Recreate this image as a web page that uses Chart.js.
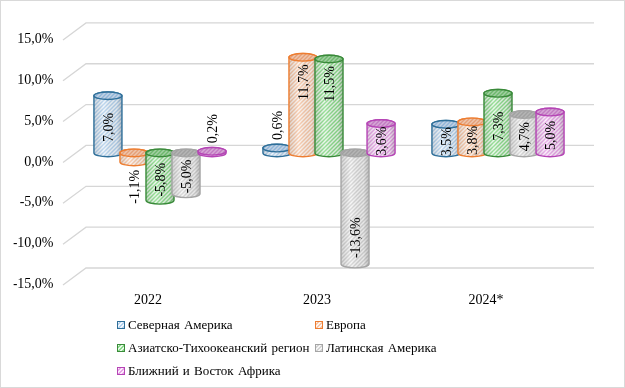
<!DOCTYPE html>
<html>
<head>
<meta charset="utf-8">
<script src="https://cdn.jsdelivr.net/npm/chart.js@4/dist/chart.umd.min.js"></script>
<style>
  body { margin: 0; background: #fff; }
  #wrap { position: relative; width: 625px; height: 388px; font-family: "Liberation Serif", "Times New Roman", serif; }
  #frame { position: absolute; left: 0; top: 0; width: 623px; height: 386px; border: 1px solid #d9d9d9; pointer-events: none; }
  #legend { position: absolute; left: 0; top: 0; width: 625px; height: 388px; pointer-events: none; }
  .item { position: absolute; font-size: 13px; color: #000; line-height: 16px; white-space: nowrap; word-spacing: 1px; }
  .mark { display: inline-block; width: 6px; height: 6px; margin-right: 3px; vertical-align: 0px; border: 1px solid; }
</style>
</head>
<body>
<div id="wrap">
  <canvas id="chart" width="625" height="388"></canvas>
  <div id="legend"></div>
  <div id="frame"></div>
</div>
<script>
const categories = ["2022", "2023", "2024*"];
const seriesNames = [
  "Северная Америка",
  "Европа",
  "Азиатско-Тихоокеанский регион",
  "Латинская Америка",
  "Ближний и Восток Африка",
];
const northAmerica = [7.0, 0.6, 3.5];
const europe = [-1.1, 11.7, 3.8];
const asiaPacific = [-5.8, 11.5, 7.3];
const latinAmerica = [-5.0, -13.6, 4.7];
const middleEastAfrica = [0.2, 3.6, 5.0];
const yMin = -15, yMax = 15, yStep = 5;

// стили цилиндров: рамка, фон/штрих тела, фон/штрих крышки
const styles = [
  { border: "#2f6f99", bg: "#f0f6fc", stripe: "#b3d1ed", capBg: "#c3d3e2", capStripe: "#8fb4d9" },
  { border: "#ed7d31", bg: "#fef4ee", stripe: "#f7c6a6", capBg: "#eec6ad", capStripe: "#e59f78" },
  { border: "#3a8a3a", bg: "#e9f8e9", stripe: "#8adb8a", capBg: "#a3cfa3", capStripe: "#6cb86c" },
  { border: "#a5a5a5", bg: "#f6f6f6", stripe: "#d3d3d3", capBg: "#b5b5b5", capStripe: "#a0a0a0" },
  { border: "#b545b5", bg: "#fcedfc", stripe: "#e6a3e6", capBg: "#d6a8d6", capStripe: "#c27ac2" },
];

const FONT = '"Liberation Serif", "Times New Roman", serif';

function makePattern(ctx, bg, fg) {
  const c = document.createElement("canvas");
  c.width = c.height = 4;
  const g = c.getContext("2d");
  g.fillStyle = bg;
  g.fillRect(0, 0, 4, 4);
  g.strokeStyle = fg;
  g.lineWidth = 1.4;
  g.beginPath();
  g.moveTo(-1, 5); g.lineTo(5, -1);
  g.moveTo(-3, 3); g.lineTo(3, -3);
  g.moveTo(1, 7); g.lineTo(7, 1);
  g.stroke();
  return ctx.createPattern(c, "repeat");
}

function fmt(v) {
  return v.toFixed(1).replace(".", ",") + "%";
}

// стенка с сеткой (3D)
const gridPlugin = {
  id: "grid3d",
  beforeDatasetsDraw(chart) {
    const { ctx, chartArea, scales } = chart;
    ctx.save();
    ctx.strokeStyle = "#d6d6d6";
    ctx.lineWidth = 1.3;
    for (let v = yMin; v <= yMax; v += yStep) {
      const y = scales.y.getPixelForValue(v) - 7.5;
      ctx.beginPath();
      ctx.moveTo(chartArea.left - 12.5, y + 17);
      ctx.lineTo(chartArea.left + 10.5, y);
      ctx.lineTo(chartArea.right + 11.5, y);
      ctx.stroke();
    }
    ctx.restore();
  },
};

function drawCylinder(ctx, x, w, yTop, yBot, st) {
  const rx = w / 2, ry = 3.8, l = x - rx, r = x + rx;
  ctx.save();
  ctx.beginPath();
  ctx.moveTo(l, yTop);
  ctx.lineTo(l, yBot);
  ctx.ellipse(x, yBot, rx, ry, 0, Math.PI, 0, true);
  ctx.lineTo(r, yTop);
  ctx.ellipse(x, yTop, rx, ry, 0, 0, -Math.PI, true);
  ctx.closePath();
  ctx.fillStyle = st.body;
  ctx.fill();
  const gr = ctx.createLinearGradient(l, 0, r, 0);
  gr.addColorStop(0, "rgba(0,0,0,0.12)");
  gr.addColorStop(0.35, "rgba(255,255,255,0.15)");
  gr.addColorStop(0.8, "rgba(0,0,0,0.06)");
  gr.addColorStop(1, "rgba(0,0,0,0.22)");
  ctx.fillStyle = gr;
  ctx.fill();
  ctx.strokeStyle = st.border;
  ctx.lineWidth = 1.4;
  ctx.stroke();
  // крышка
  ctx.beginPath();
  ctx.ellipse(x, yTop, rx, ry, 0, 0, Math.PI * 2);
  ctx.fillStyle = st.cap;
  ctx.fill();
  ctx.stroke();
  ctx.restore();
}

const cylinderPlugin = {
  id: "cylinders",
  afterDatasetsDraw(chart) {
    const { ctx } = chart;
    const labels = [];
    chart.data.datasets.forEach((ds, di) => {
      const meta = chart.getDatasetMeta(di);
      const st = styles[di];
      if (!st.body) {
        st.body = makePattern(ctx, st.bg, st.stripe);
        st.cap = makePattern(ctx, st.capBg, st.capStripe);
      }
      meta.data.forEach((el, i) => {
        const p = el.getProps(["x", "y", "base", "width"], true);
        const yTop = Math.min(p.y, p.base);
        const yBot = Math.max(p.y, p.base);
        drawCylinder(ctx, p.x, p.width + 2, yTop, yBot, st);
        labels.push({ v: ds.data[i], x: p.x, yTop, yBot });
      });
    });
    // подписи данных
    ctx.save();
    ctx.font = "14px " + FONT;
    ctx.fillStyle = "#000";
    ctx.textBaseline = "middle";
    ctx.textAlign = "center";
    labels.forEach((lb) => {
      const txt = fmt(lb.v);
      const tw = ctx.measureText(txt).width;
      const a = Math.abs(lb.v);
      let cy;
      if (a < 2) {
        cy = lb.v >= 0 ? lb.yTop - 8 - tw / 2 : lb.yBot + 8 + tw / 2;
      } else if (a >= 10) {
        cy = lb.v >= 0 ? lb.yTop + 7 + tw / 2 : lb.yBot - 6 - tw / 2;
      } else {
        cy = (lb.yTop + lb.yBot) / 2 + 3;
      }
      ctx.save();
      ctx.translate(lb.x + 1, cy);
      ctx.rotate(-Math.PI / 2);
      ctx.fillText(txt, 0, 0);
      ctx.restore();
    });
    ctx.restore();
  },
};

const seriesValues = [northAmerica, europe, asiaPacific, latinAmerica, middleEastAfrica];

new Chart(document.getElementById("chart"), {
  type: "bar",
  data: {
    labels: categories,
    datasets: seriesValues.map((vals, i) => ({
      label: seriesNames[i],
      data: vals,
      backgroundColor: "rgba(0,0,0,0)",
      borderWidth: 0,
      barPercentage: 1,
      categoryPercentage: 0.77,
    })),
  },
  options: {
    responsive: false,
    animation: false,
    devicePixelRatio: 1,
    layout: { padding: { left: 13.5, right: 42.5, top: 24.5, bottom: 72.5 } },
    plugins: { legend: { display: false }, tooltip: { enabled: false } },
    scales: {
      x: {
        grid: { display: false, drawTicks: false },
        border: { display: false },
        ticks: { color: "#000", font: { family: FONT, size: 14 }, padding: 16, labelOffset: -12 },
        afterFit(s) { s.height = 40; },
      },
      y: {
        min: yMin,
        max: yMax,
        grid: { display: false, drawTicks: false },
        border: { display: false },
        ticks: {
          stepSize: yStep,
          color: "#000",
          font: { family: FONT, size: 14 },
          padding: 22,
          labelOffset: 9,
          callback: (v) => fmt(v),
        },
        afterFit(s) { s.width = 62; },
      },
    },
  },
  plugins: [gridPlugin, cylinderPlugin],
});

// легенда в две колонки
const legend = document.getElementById("legend");
const legendPos = [[117, 317], [315, 317], [117, 340], [315, 340], [117, 363]];
seriesNames.forEach((name, i) => {
  const st = styles[i];
  const d = document.createElement("div");
  d.className = "item";
  d.style.left = legendPos[i][0] + "px";
  d.style.top = legendPos[i][1] + "px";
  const m = document.createElement("span");
  m.className = "mark";
  m.style.borderColor = st.border;
  m.style.background = `repeating-linear-gradient(135deg, ${st.bg} 0 1.2px, ${st.stripe} 1.2px 2.6px)`;
  d.appendChild(m);
  d.appendChild(document.createTextNode(name));
  legend.appendChild(d);
});
</script>
</body>
</html>
